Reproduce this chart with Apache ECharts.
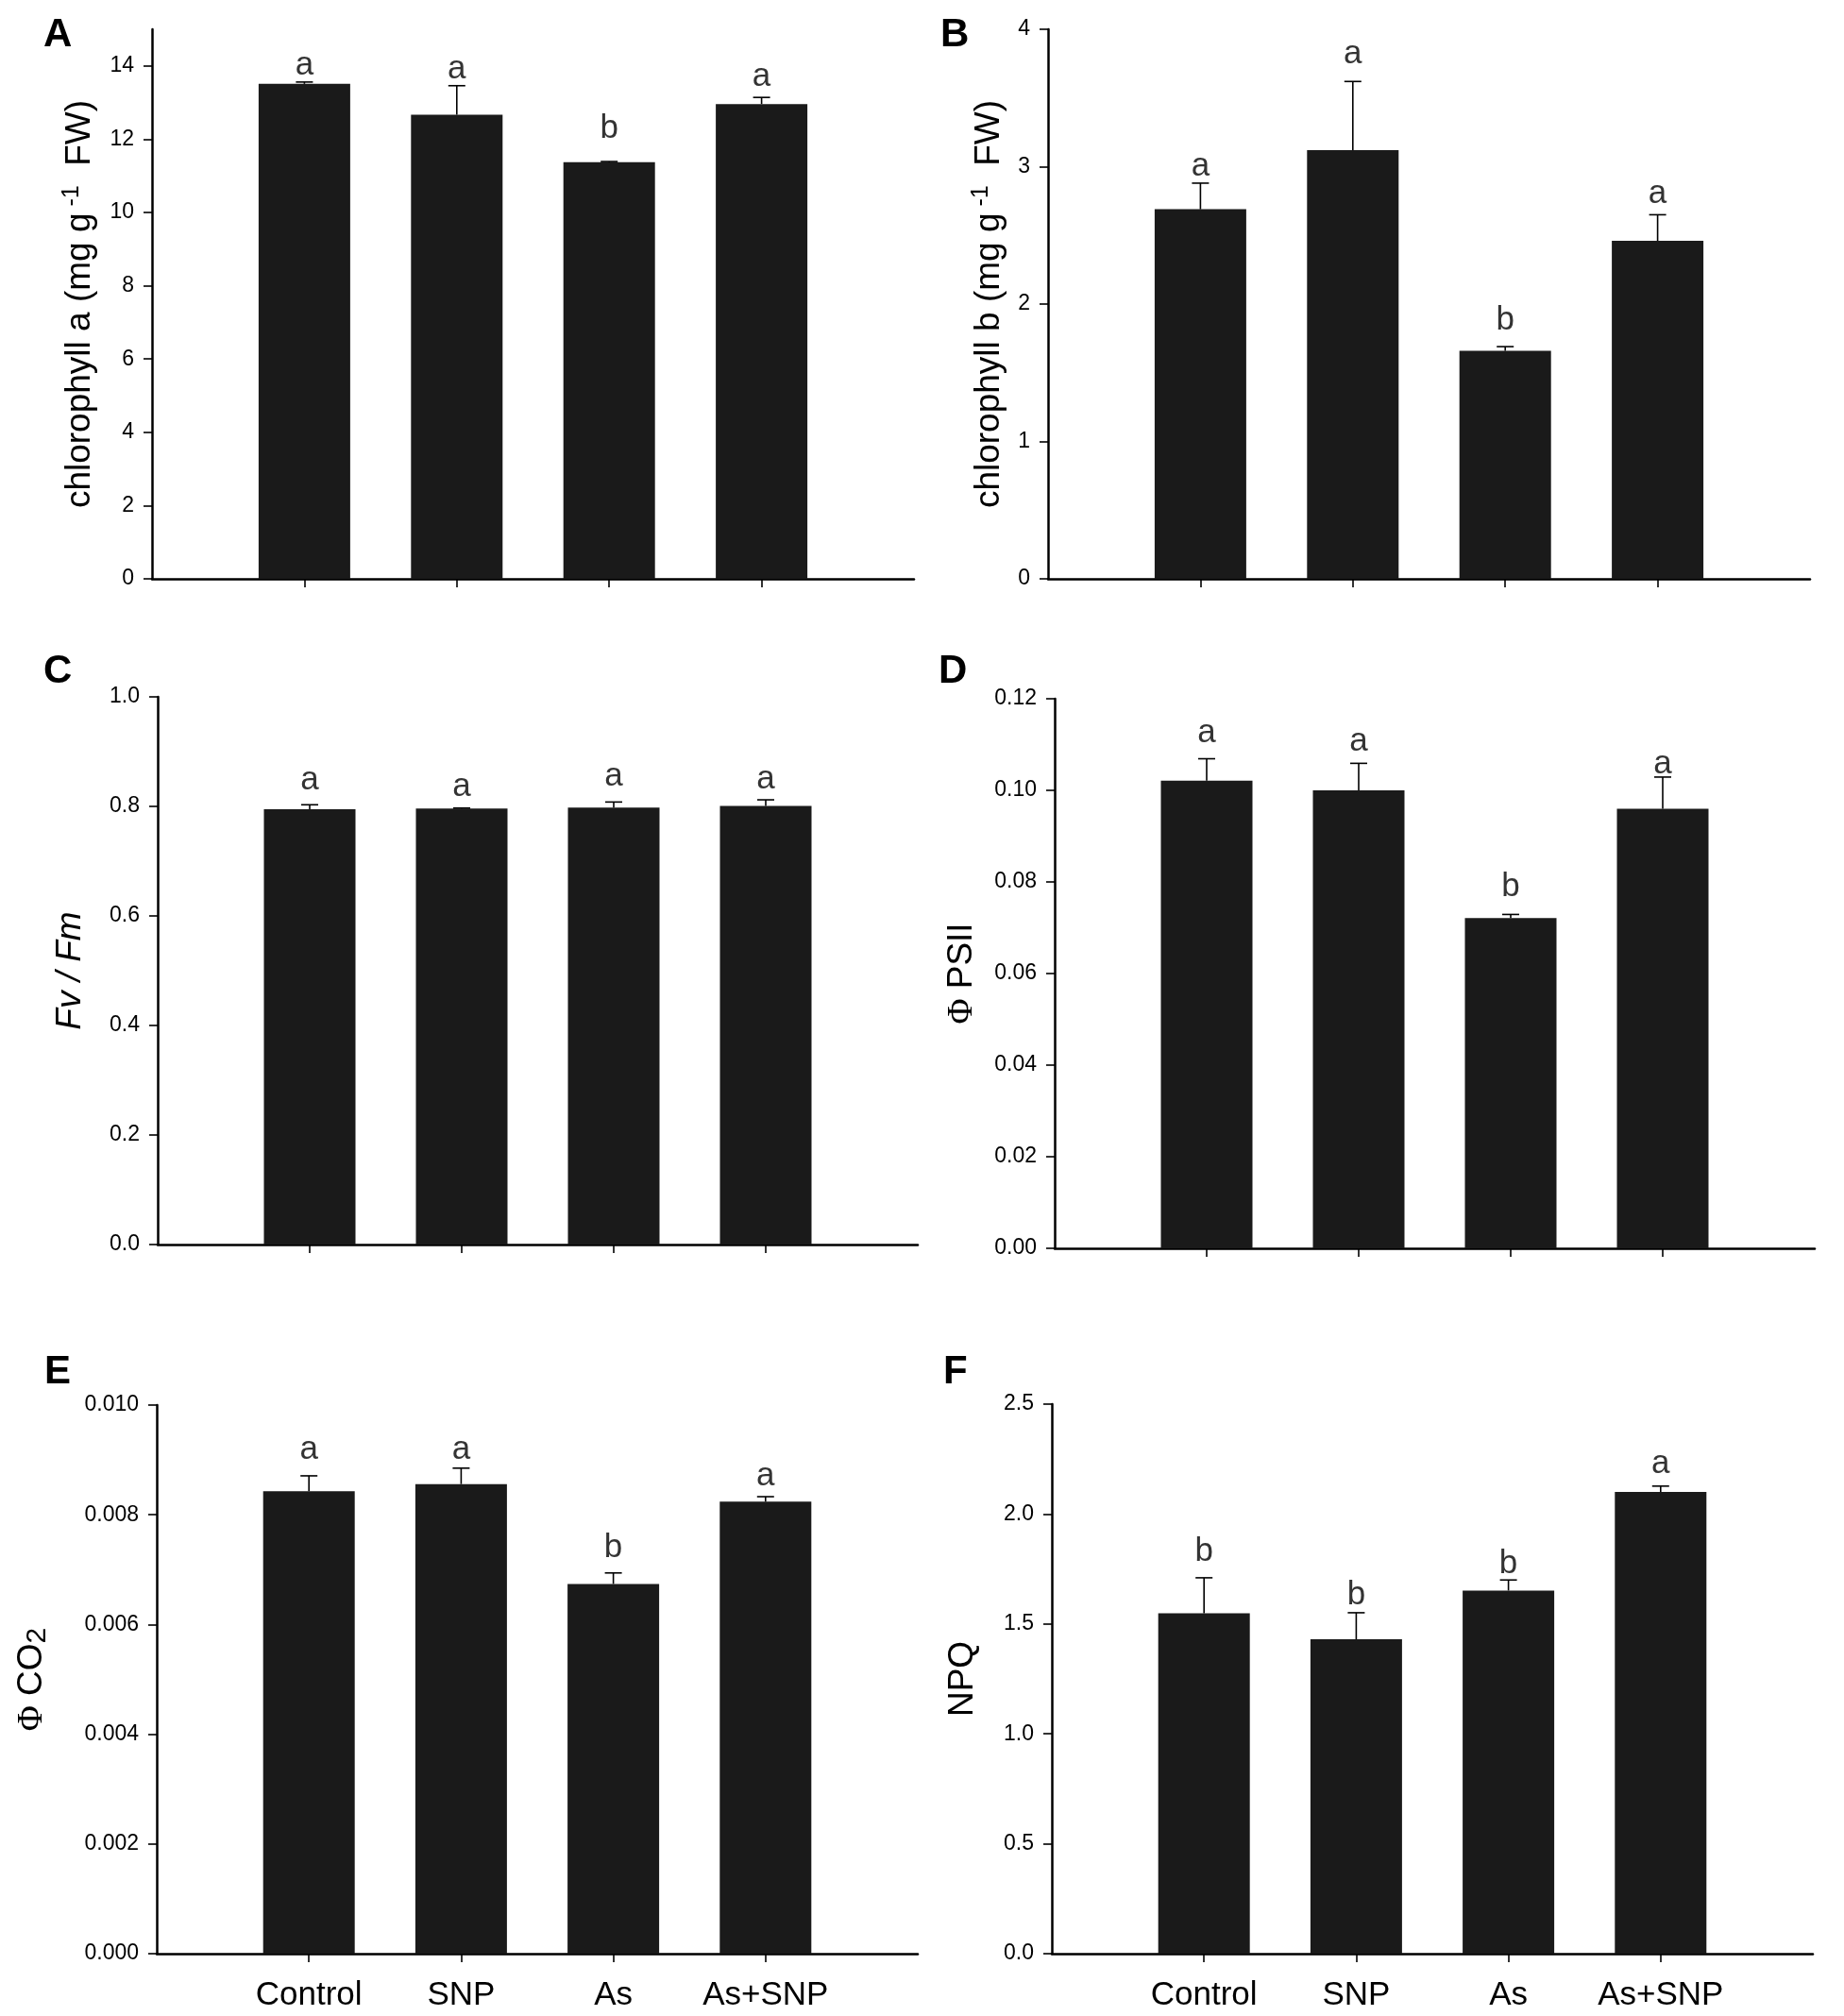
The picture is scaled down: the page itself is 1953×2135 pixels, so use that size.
<!DOCTYPE html>
<html>
<head>
<meta charset="utf-8">
<script src="https://cdn.jsdelivr.net/npm/echarts@6/dist/echarts.min.js"></script>
<style>
html, body { margin: 0; padding: 0; background: #fff; }
#main { width: 1953px; height: 2135px; }
</style>
</head>
<body>
<div id="main"></div>
<script>
// 处理组
var groups = ['Control', 'SNP', 'As', 'As+SNP'];
var groupPos = [1, 2, 3, 4];

// A 叶绿素a
var chlA = [13.51, 12.67, 11.37, 12.96];
var chlAErr = [0.05, 0.79, 0.02, 0.18];
var chlALetters = ['a', 'a', 'b', 'a'];
var chlALetterY = [14.02, 13.9, 12.29, 13.71];
var chlATicks = [0, 2, 4, 6, 8, 10, 12, 14];

// B 叶绿素b
var chlB = [2.69, 3.12, 1.66, 2.46];
var chlBErr = [0.19, 0.50, 0.03, 0.19];
var chlBLetters = ['a', 'a', 'b', 'a'];
var chlBLetterY = [3.0, 3.82, 1.88, 2.80];
var chlBTicks = [0, 1, 2, 3, 4];

// C Fv/Fm
var fvfm = [0.795, 0.796, 0.798, 0.801];
var fvfmErr = [0.008, 0.001, 0.010, 0.011];
var fvfmLetters = ['a', 'a', 'a', 'a'];
var fvfmLetterY = [0.848, 0.835, 0.854, 0.85];
var fvfmTicks = [0, 0.2, 0.4, 0.6, 0.8, 1.0];

// D Φ PSII
var psii = [0.1021, 0.1000, 0.0721, 0.0960];
var psiiErr = [0.0048, 0.0059, 0.0008, 0.0069];
var psiiLetters = ['a', 'a', 'b', 'a'];
var psiiLetterY = [0.1125, 0.1106, 0.0789, 0.1056];
var psiiTicks = [0, 0.02, 0.04, 0.06, 0.08, 0.10, 0.12];

// E Φ CO2
var co2 = [0.00843, 0.00856, 0.00674, 0.00824];
var co2Err = [0.00028, 0.00029, 0.00020, 0.00009];
var co2Letters = ['a', 'a', 'b', 'a'];
var co2LetterY = [0.00919, 0.00918, 0.0074, 0.00871];
var co2Ticks = [0, 0.002, 0.004, 0.006, 0.008, 0.010];

// F NPQ
var npq = [1.549, 1.430, 1.652, 2.101];
var npqErr = [0.161, 0.121, 0.048, 0.026];
var npqLetters = ['b', 'b', 'b', 'a'];
var npqLetterY = [1.827, 1.632, 1.771, 2.226];
var npqTicks = [0, 0.5, 1.0, 1.5, 2.0, 2.5];

var FONT = 'Liberation Sans, Arial, sans-serif';
var SERIF = 'Liberation Serif, Times New Roman, serif';

var panels = [
	{ tag: 'A', grid: { left: 161, top: 31, width: 807, height: 582 }, tagPos: [46, 16],
	  mean: chlA, err: chlAErr, letters: chlALetters, letterY: chlALetterY, ticks: chlATicks,
	  max: 15, dec: 0, nameGap: 55, showX: false,
	  name: '{t|chlorophyll a (mg g}{s| -1}{t|  FW)}' },
	{ tag: 'B', grid: { left: 1110, top: 31, width: 807, height: 582 }, tagPos: [996, 16],
	  mean: chlB, err: chlBErr, letters: chlBLetters, letterY: chlBLetterY, ticks: chlBTicks,
	  max: 4, dec: 0, nameGap: 41, showX: false,
	  name: '{t|chlorophyll b (mg g}{s| -1}{t|  FW)}' },
	{ tag: 'C', grid: { left: 167, top: 738, width: 805, height: 580 }, tagPos: [46, 690],
	  mean: fvfm, err: fvfmErr, letters: fvfmLetters, letterY: fvfmLetterY, ticks: fvfmTicks,
	  max: 1.0, dec: 1, nameGap: 71, showX: false,
	  name: '{i|Fv / Fm}' },
	{ tag: 'D', grid: { left: 1117, top: 740, width: 805, height: 582 }, tagPos: [994, 690],
	  mean: psii, err: psiiErr, letters: psiiLetters, letterY: psiiLetterY, ticks: psiiTicks,
	  max: 0.12, dec: 2, nameGap: 77, showX: false,
	  name: '{f|Φ}{t| PSII}' },
	{ tag: 'E', grid: { left: 166, top: 1488, width: 806, height: 581 }, tagPos: [47, 1432],
	  mean: co2, err: co2Err, letters: co2Letters, letterY: co2LetterY, ticks: co2Ticks,
	  max: 0.010, dec: 3, nameGap: 111, showX: true,
	  name: '{f|Φ}{t| CO}{sub|2}' },
	{ tag: 'F', grid: { left: 1114, top: 1487, width: 806, height: 582 }, tagPos: [999, 1432],
	  mean: npq, err: npqErr, letters: npqLetters, letterY: npqLetterY, ticks: npqTicks,
	  max: 2.5, dec: 1, nameGap: 73, showX: true,
	  name: '{t|NPQ}' }
];

var nameRich = {
	t: { fontSize: 37, fontFamily: FONT, color: '#000', lineHeight: 42 },
	i: { fontSize: 37, fontFamily: FONT, fontStyle: 'italic', color: '#000', lineHeight: 42 },
	f: { fontSize: 37, fontFamily: SERIF, color: '#000', lineHeight: 42 },
	s: { fontSize: 25, fontFamily: FONT, color: '#000', lineHeight: 25, verticalAlign: 'top' },
	sub: { fontSize: 30, fontFamily: FONT, color: '#000', lineHeight: 30, verticalAlign: 'bottom' }
};

/**
 * 误差线
 */
function renderErr(params, api) {
	var x = api.value(0);
	var y = api.value(1);
	var e = api.value(2);
	var p0 = api.coord([x, y]);
	var p1 = api.coord([x, y + e]);
	var half = 9;
	var st = { stroke: '#000', lineWidth: 1.6 };
	return {
		type: 'group',
		children: [
			{ type: 'line', shape: { x1: p0[0], y1: p0[1], x2: p1[0], y2: p1[1] }, style: st },
			{ type: 'line', shape: { x1: p1[0] - half, y1: p1[1], x2: p1[0] + half, y2: p1[1] }, style: st }
		]
	};
}

var grids = [], xAxes = [], yAxes = [], series = [], graphics = [];

panels.forEach(function (p, k) {
	grids.push(p.grid);
	xAxes.push({
		type: 'value', gridIndex: k, min: 0, max: 5, interval: 1,
		splitLine: { show: false },
		axisLine: { show: true, lineStyle: { color: '#000', width: 2.5 } },
		axisTick: { show: true, inside: false, length: 9, customValues: groupPos,
			lineStyle: { color: '#000', width: 1.6 } },
		axisLabel: { show: p.showX, customValues: groupPos, margin: 27,
			fontSize: 35, fontFamily: FONT, color: '#000',
			formatter: function (v) { return groups[Math.round(v) - 1] || ''; } }
	});
	yAxes.push({
		type: 'value', gridIndex: k, min: 0, max: p.max,
		splitLine: { show: false },
		name: p.name, nameLocation: 'middle', nameRotate: 90, nameGap: p.nameGap,
		nameTextStyle: { rich: nameRich },
		axisLine: { show: true, lineStyle: { color: '#000', width: 2.5 } },
		axisTick: { show: true, inside: false, length: 9, customValues: p.ticks,
			lineStyle: { color: '#000', width: 1.6 } },
		axisLabel: { customValues: p.ticks, margin: 19, fontSize: 23, fontFamily: FONT, color: '#000',
			formatter: (function (dec) { return function (v) { return v.toFixed(dec); }; })(p.dec) }
	});
	series.push({
		type: 'bar', xAxisIndex: k, yAxisIndex: k, barWidth: 97,
		itemStyle: { color: '#1a1a1a' },
		data: p.mean.map(function (v, i) { return [groupPos[i], v]; })
	});
	series.push({
		type: 'custom', xAxisIndex: k, yAxisIndex: k, z: 5,
		renderItem: renderErr,
		data: p.mean.map(function (v, i) { return [groupPos[i], v, p.err[i]]; })
	});
	series.push({
		type: 'scatter', xAxisIndex: k, yAxisIndex: k, symbolSize: 0, z: 6,
		label: { show: true, position: 'inside', fontSize: 35, fontFamily: FONT, color: '#000',
			formatter: function (d) { return d.value[2]; } },
		data: p.letterY.map(function (v, i) { return [groupPos[i], v, p.letters[i]]; })
	});
	graphics.push({
		type: 'text', left: p.tagPos[0], top: p.tagPos[1],
		style: { text: p.tag, font: 'bold 42px ' + FONT, fill: '#000' }
	});
});

var myChart = echarts.init(document.getElementById('main'));
myChart.setOption({
	animation: false,
	backgroundColor: '#fff',
	textStyle: { fontFamily: FONT },
	grid: grids,
	xAxis: xAxes,
	yAxis: yAxes,
	series: series,
	graphic: graphics
});
</script>
</body>
</html>
